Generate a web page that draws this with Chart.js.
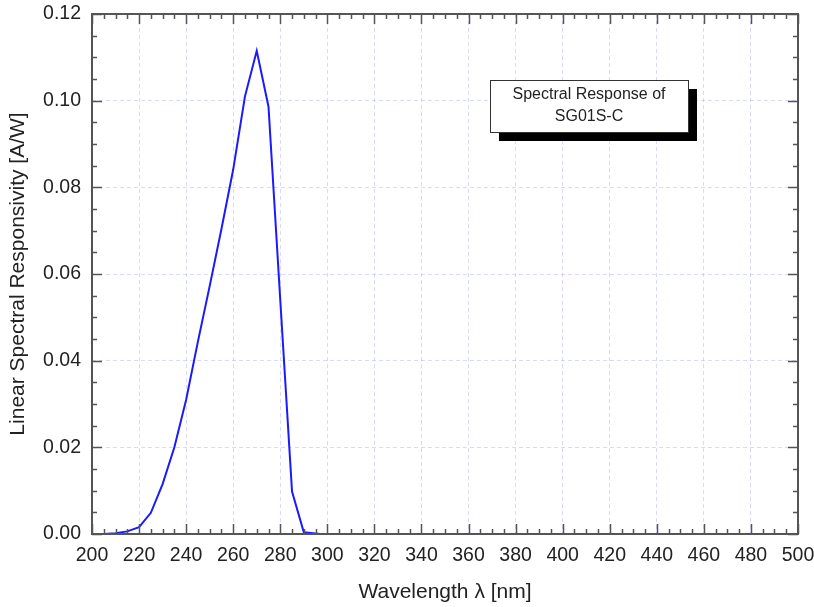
<!DOCTYPE html>
<html>
<head>
<meta charset="utf-8">
<script src="https://cdn.jsdelivr.net/npm/chart.js@4"></script>
<style>
html,body{margin:0;padding:0;background:#fff;}
#wrap{position:relative;width:814px;height:607px;}
</style>
</head>
<body>
<div id="wrap"><canvas id="c" width="814" height="607"></canvas></div>
<script>
const wavelengths = [200, 205, 210, 215, 220, 225, 230, 235, 240, 245, 250, 255, 260, 265, 270, 275, 280, 285, 290, 297];
const responsivity = [0, 0, 0.0002, 0.0006, 0.0016, 0.0049, 0.0115, 0.020, 0.031, 0.0444, 0.0572, 0.0704, 0.0841, 0.1010, 0.1115, 0.0986, 0.054, 0.0098, 0.0004, 0];
const xTicks = [200, 220, 240, 260, 280, 300, 320, 340, 360, 380, 400, 420, 440, 460, 480, 500];
const yTicks = [0.00, 0.02, 0.04, 0.06, 0.08, 0.10, 0.12];
const xLabel = 'Wavelength λ [nm]';
const yLabel = 'Linear Spectral Responsivity [A/W]';
const noteLines = ['Spectral Response of', 'SG01S-C'];

const FONT = 'Arial, "Liberation Sans", sans-serif';
const TXT = '#222';
const GRID = 'rgba(130,130,255,0.3)';

function zeroPad(s) { s.paddingTop = 0; s.paddingBottom = 0; s.paddingLeft = 0; s.paddingRight = 0; }

const framePlugin = {
  id: 'frame',
  afterDatasetsDraw(chart) {
    const ctx = chart.ctx, a = chart.chartArea;
    const xs = chart.scales.x, ys = chart.scales.y;
    ctx.save();
    ctx.strokeStyle = '#555';
    ctx.lineWidth = 2;
    ctx.strokeRect(a.left, a.top, a.right - a.left, a.bottom - a.top);
    ctx.lineWidth = 1.5;
    ctx.beginPath();
    for (let v = xs.min; v <= xs.max + 1e-9; v += 5) {
      const px = Math.round(xs.getPixelForValue(v)) + 0.5;
      const len = (Math.round(v) % 20 === 0) ? 10 : 5;
      ctx.moveTo(px, a.bottom); ctx.lineTo(px, a.bottom - len);
      ctx.moveTo(px, a.top); ctx.lineTo(px, a.top + len);
    }
    for (let i = 0; i <= 24; i++) {
      const v = i * 0.005;
      const py = Math.round(ys.getPixelForValue(v)) + 0.5;
      const len = (i % 4 === 0) ? 10 : 5;
      ctx.moveTo(a.left, py); ctx.lineTo(a.left + len, py);
      ctx.moveTo(a.right, py); ctx.lineTo(a.right - len, py);
    }
    ctx.stroke();

    const bx = 490, by = 80, bw = 198, bh = 52;
    ctx.fillStyle = '#000';
    ctx.fillRect(bx + 9, by + 9, bw, bh);
    ctx.fillStyle = '#fff';
    ctx.fillRect(bx, by, bw, bh);
    ctx.strokeStyle = '#333';
    ctx.lineWidth = 1;
    ctx.strokeRect(bx + 0.5, by + 0.5, bw, bh);
    ctx.fillStyle = TXT;
    ctx.font = '16px ' + FONT;
    ctx.textAlign = 'center';
    ctx.textBaseline = 'middle';
    ctx.fillText(noteLines[0], bx + bw / 2, by + 15);
    ctx.fillText(noteLines[1], bx + bw / 2, by + 37);
    ctx.restore();
  }
};

new Chart(document.getElementById('c'), {
  type: 'line',
  data: {
    datasets: [{
      data: wavelengths.map((x, i) => ({x: x, y: responsivity[i]})),
      borderColor: '#1a1aff',
      borderWidth: 2,
      pointRadius: 0,
      tension: 0,
      fill: false
    }]
  },
  plugins: [framePlugin],
  options: {
    responsive: false,
    animation: false,
    layout: {padding: {left: 0, top: 14, right: 16, bottom: 0}},
    plugins: {legend: {display: false}, tooltip: {enabled: false}},
    scales: {
      x: {
        type: 'linear',
        min: 200, max: 500,
        afterBuildTicks(s) { s.ticks = xTicks.map(v => ({value: v})); },
        afterFit(s) { s.height = 73; zeroPad(s); },
        border: {display: false, dash: [4, 3]},
        grid: {color: GRID, lineWidth: 1, drawTicks: false},
        ticks: {
          padding: 10,
          maxRotation: 0,
          autoSkip: false,
          color: TXT,
          font: {family: FONT, size: 19.5},
          callback: v => String(v)
        },
        title: {
          display: true,
          text: xLabel,
          color: TXT,
          font: {family: FONT, size: 21},
          padding: {top: 0, bottom: 2}
        }
      },
      y: {
        type: 'linear',
        min: 0, max: 0.12,
        afterBuildTicks(s) { s.ticks = yTicks.map(v => ({value: v})); },
        afterFit(s) { s.width = 92; zeroPad(s); },
        border: {display: false, dash: [4, 3]},
        grid: {color: GRID, lineWidth: 1, drawTicks: false},
        ticks: {
          padding: 11,
          autoSkip: false,
          color: TXT,
          font: {family: FONT, size: 19.5},
          callback: v => Number(v).toFixed(2)
        },
        title: {
          display: true,
          text: yLabel,
          color: TXT,
          font: {family: FONT, size: 21},
          padding: {top: 6, bottom: 0}
        }
      }
    }
  }
});
</script>
</body>
</html>
